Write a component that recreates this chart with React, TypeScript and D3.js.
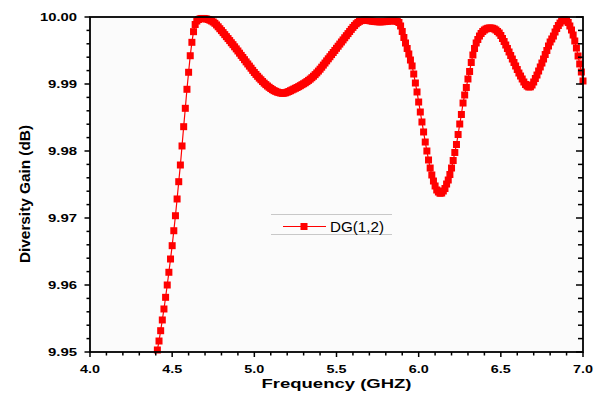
import React from "react";
import * as d3 from "d3";

// Diversity gain DG(1,2) sampled every 0.01 GHz from 4.41 GHz to 7.00 GHz
const FREQ_START = 4.41;
const FREQ_STEP = 0.01;
const GAIN: number[] = [
  // 4.41–4.50
  9.95030, 9.95164, 9.95318, 9.95478, 9.95642, 9.95816, 9.96000, 9.96190, 9.96388, 9.96587,
  // 4.51–4.60
  9.96810, 9.97034, 9.97284, 9.97542, 9.97791, 9.98075, 9.98363, 9.98637, 9.98921, 9.99175,
  // 4.61–4.70
  9.99422, 9.99622, 9.99781, 9.99888, 9.99940, 9.99963, 9.99973, 9.99978, 9.99978, 9.99975,
  // 4.71–4.80
  9.99970, 9.99963, 9.99952, 9.99940, 9.99925, 9.99906, 9.99881, 9.99854, 9.99825, 9.99797,
  // 4.81–4.90
  9.99767, 9.99737, 9.99707, 9.99678, 9.99648, 9.99616, 9.99587, 9.99555, 9.99524, 9.99493,
  // 4.91–5.00
  9.99460, 9.99427, 9.99396, 9.99363, 9.99330, 9.99299, 9.99267, 9.99236, 9.99203, 9.99172,
  // 5.01–5.10
  9.99143, 9.99115, 9.99088, 9.99063, 9.99037, 9.99013, 9.98991, 9.98970, 9.98951, 9.98933,
  // 5.11–5.20
  9.98916, 9.98901, 9.98890, 9.98879, 9.98872, 9.98866, 9.98861, 9.98863, 9.98869, 9.98878,
  // 5.21–5.30
  9.98888, 9.98900, 9.98912, 9.98924, 9.98936, 9.98948, 9.98961, 9.98975, 9.98990, 9.99004,
  // 5.31–5.40
  9.99019, 9.99036, 9.99054, 9.99073, 9.99094, 9.99116, 9.99140, 9.99166, 9.99193, 9.99221,
  // 5.41–5.50
  9.99251, 9.99282, 9.99313, 9.99345, 9.99376, 9.99407, 9.99439, 9.99470, 9.99501, 9.99533,
  // 5.51–5.60
  9.99564, 9.99596, 9.99627, 9.99658, 9.99690, 9.99721, 9.99752, 9.99784, 9.99815, 9.99845,
  // 5.61–5.70
  9.99873, 9.99899, 9.99919, 9.99936, 9.99946, 9.99952, 9.99955, 9.99955, 9.99951, 9.99946,
  // 5.71–5.80
  9.99942, 9.99937, 9.99934, 9.99931, 9.99930, 9.99928, 9.99928, 9.99930, 9.99931, 9.99934,
  // 5.81–5.90
  9.99937, 9.99940, 9.99943, 9.99945, 9.99945, 9.99940, 9.99933, 9.99918, 9.99866, 9.99784,
  // 5.91–6.00
  9.99694, 9.99612, 9.99530, 9.99448, 9.99358, 9.99269, 9.99149, 9.99015, 9.98881, 9.98731,
  // 6.01–6.10
  9.98582, 9.98433, 9.98284, 9.98134, 9.98000, 9.97866, 9.97746, 9.97642, 9.97552, 9.97478,
  // 6.11–6.20
  9.97418, 9.97388, 9.97369, 9.97373, 9.97403, 9.97440, 9.97507, 9.97567, 9.97649, 9.97746,
  // 6.21–6.30
  9.97858, 9.97978, 9.98097, 9.98246, 9.98403, 9.98545, 9.98716, 9.98836, 9.98948, 9.99075,
  // 6.31–6.40
  9.99187, 9.99321, 9.99433, 9.99530, 9.99612, 9.99664, 9.99716, 9.99754, 9.99784, 9.99806,
  // 6.41–6.50
  9.99821, 9.99831, 9.99836, 9.99836, 9.99831, 9.99821, 9.99806, 9.99784, 9.99761, 9.99724,
  // 6.51–6.60
  9.99679, 9.99634, 9.99582, 9.99530, 9.99478, 9.99425, 9.99373, 9.99321, 9.99269, 9.99216,
  // 6.61–6.70
  9.99164, 9.99119, 9.99075, 9.99030, 9.98993, 9.98970, 9.98955, 9.98958, 9.98985, 9.99030,
  // 6.71–6.80
  9.99082, 9.99134, 9.99194, 9.99254, 9.99313, 9.99373, 9.99440, 9.99500, 9.99567, 9.99627,
  // 6.81–6.90
  9.99672, 9.99716, 9.99776, 9.99828, 9.99873, 9.99910, 9.99940, 9.99955, 9.99958, 9.99948,
  // 6.91–7.00
  9.99918, 9.99866, 9.99806, 9.99731, 9.99642, 9.99537, 9.99418, 9.99299, 9.99179, 9.99045,
];

const X_TICKS = [4.0, 4.5, 5.0, 5.5, 6.0, 6.5, 7.0];
const X_TICK_LABELS = ["4.0", "4.5", "5.0", "5.5", "6.0", "6.5", "7.0"];
const Y_TICKS = [9.95, 9.96, 9.97, 9.98, 9.99, 10.0];
const Y_TICK_LABELS = ["9.95", "9.96", "9.97", "9.98", "9.99", "10.00"];
const SERIES_NAME = "DG(1,2)";
const X_TITLE = "Frequency (GHZ)";
const Y_TITLE = "Diversity Gain (dB)";

const W = 598;
const H = 394;
const L = 90;
const R = 583;
const T = 17;
const B = 352;
const RED = "#ff0000";
const FONT = "Arial, 'Liberation Sans', sans-serif";

export default function App() {
  const x = d3.scaleLinear().domain([4, 7]).range([L, R]);
  const y = d3.scaleLinear().domain([9.95, 10.0]).range([B, T]);

  const pts = GAIN.map((g, i) => [FREQ_START + i * FREQ_STEP, g] as [number, number]);
  const line = d3
    .line<[number, number]>()
    .x((d) => x(d[0]))
    .y((d) => y(d[1]));

  const xMinor = d3.range(0, 31).map((i) => 4 + i * 0.1);
  const yMinor = d3.range(0, 26).map((i) => 9.95 + i * 0.002);
  const ms = 7;

  return (
    <div style={{ position: "absolute", left: 0, top: 0 }}>
      <svg width={W} height={H} style={{ display: "block" }}>
        <rect x={0} y={0} width={W} height={H} fill="#ffffff" />
        <rect x={L} y={T} width={R - L} height={B - T} fill="#fbfbfb" />

        {/* legend box lines */}
        <line x1={271} x2={392} y1={214.5} y2={214.5} stroke="#c8c8c8" strokeWidth={1} />
        <line x1={271} x2={392} y1={234.5} y2={234.5} stroke="#c8c8c8" strokeWidth={1} />
        <line x1={283} x2={326} y1={226.5} y2={226.5} stroke={RED} strokeWidth={1.2} />
        <rect x={304 - ms / 2} y={226.5 - ms / 2} width={ms} height={ms} fill={RED} />
        <text x={330} y={232} fontFamily={FONT} fontSize={14} textLength={54} lengthAdjust="spacingAndGlyphs" fill="#000">
          {SERIES_NAME}
        </text>

        {/* data */}
        <path d={line(pts) || ""} fill="none" stroke={RED} strokeWidth={1.2} />
        {pts.map((d, i) => (
          <rect key={i} x={x(d[0]) - ms / 2} y={y(d[1]) - ms / 2} width={ms} height={ms} fill={RED} />
        ))}

        {/* x axis ticks (outward) */}
        {xMinor.map((v, i) => {
          const major = i % 5 === 0;
          return (
            <line key={"xm" + i} x1={x(v)} x2={x(v)} y1={B} y2={B + (major ? 5 : 3.5)} stroke="#000" strokeWidth={1.5} />
          );
        })}
        {X_TICKS.map((v, i) => (
          <text key={"xl" + i} x={x(v)} y={373} textAnchor="middle" fontFamily={FONT} fontWeight="bold" fontSize={10.5} textLength={20} lengthAdjust="spacingAndGlyphs" fill="#000">
            {X_TICK_LABELS[i]}
          </text>
        ))}

        {/* left y axis ticks (outward) */}
        {yMinor.map((v, i) => {
          const major = i % 5 === 0;
          return (
            <line key={"yl" + i} x1={L - (major ? 5.5 : 3.5)} x2={L} y1={y(v)} y2={y(v)} stroke="#000" strokeWidth={1.5} />
          );
        })}
        {/* right y axis ticks (inward) */}
        {yMinor.map((v, i) => {
          const major = i % 5 === 0;
          return (
            <line key={"yr" + i} x1={R - (major ? 7 : 5)} x2={R} y1={y(v)} y2={y(v)} stroke="#000" strokeWidth={1.5} />
          );
        })}
        {Y_TICKS.map((v, i) => (
          <text key={"ylab" + i} x={77} y={y(v) + 3.8} textAnchor="end" fontFamily={FONT} fontWeight="bold" fontSize={10.5} textLength={Y_TICK_LABELS[i].length === 5 ? 37 : 29} lengthAdjust="spacingAndGlyphs" fill="#000">
            {Y_TICK_LABELS[i]}
          </text>
        ))}

        {/* frame */}
        <rect x={L} y={T} width={R - L} height={B - T} fill="none" stroke="#000" strokeWidth={1.8} />

        {/* titles */}
        <text x={(L + R) / 2} y={387.5} textAnchor="middle" fontFamily={FONT} fontWeight="bold" fontSize={13} textLength={150} lengthAdjust="spacingAndGlyphs" fill="#000">
          {X_TITLE}
        </text>
        <text transform={`translate(30, ${194}) rotate(-90)`} textAnchor="middle" fontFamily={FONT} fontWeight="bold" fontSize={15} textLength={138} lengthAdjust="spacingAndGlyphs" fill="#000">
          {Y_TITLE}
        </text>
      </svg>
    </div>
  );
}
